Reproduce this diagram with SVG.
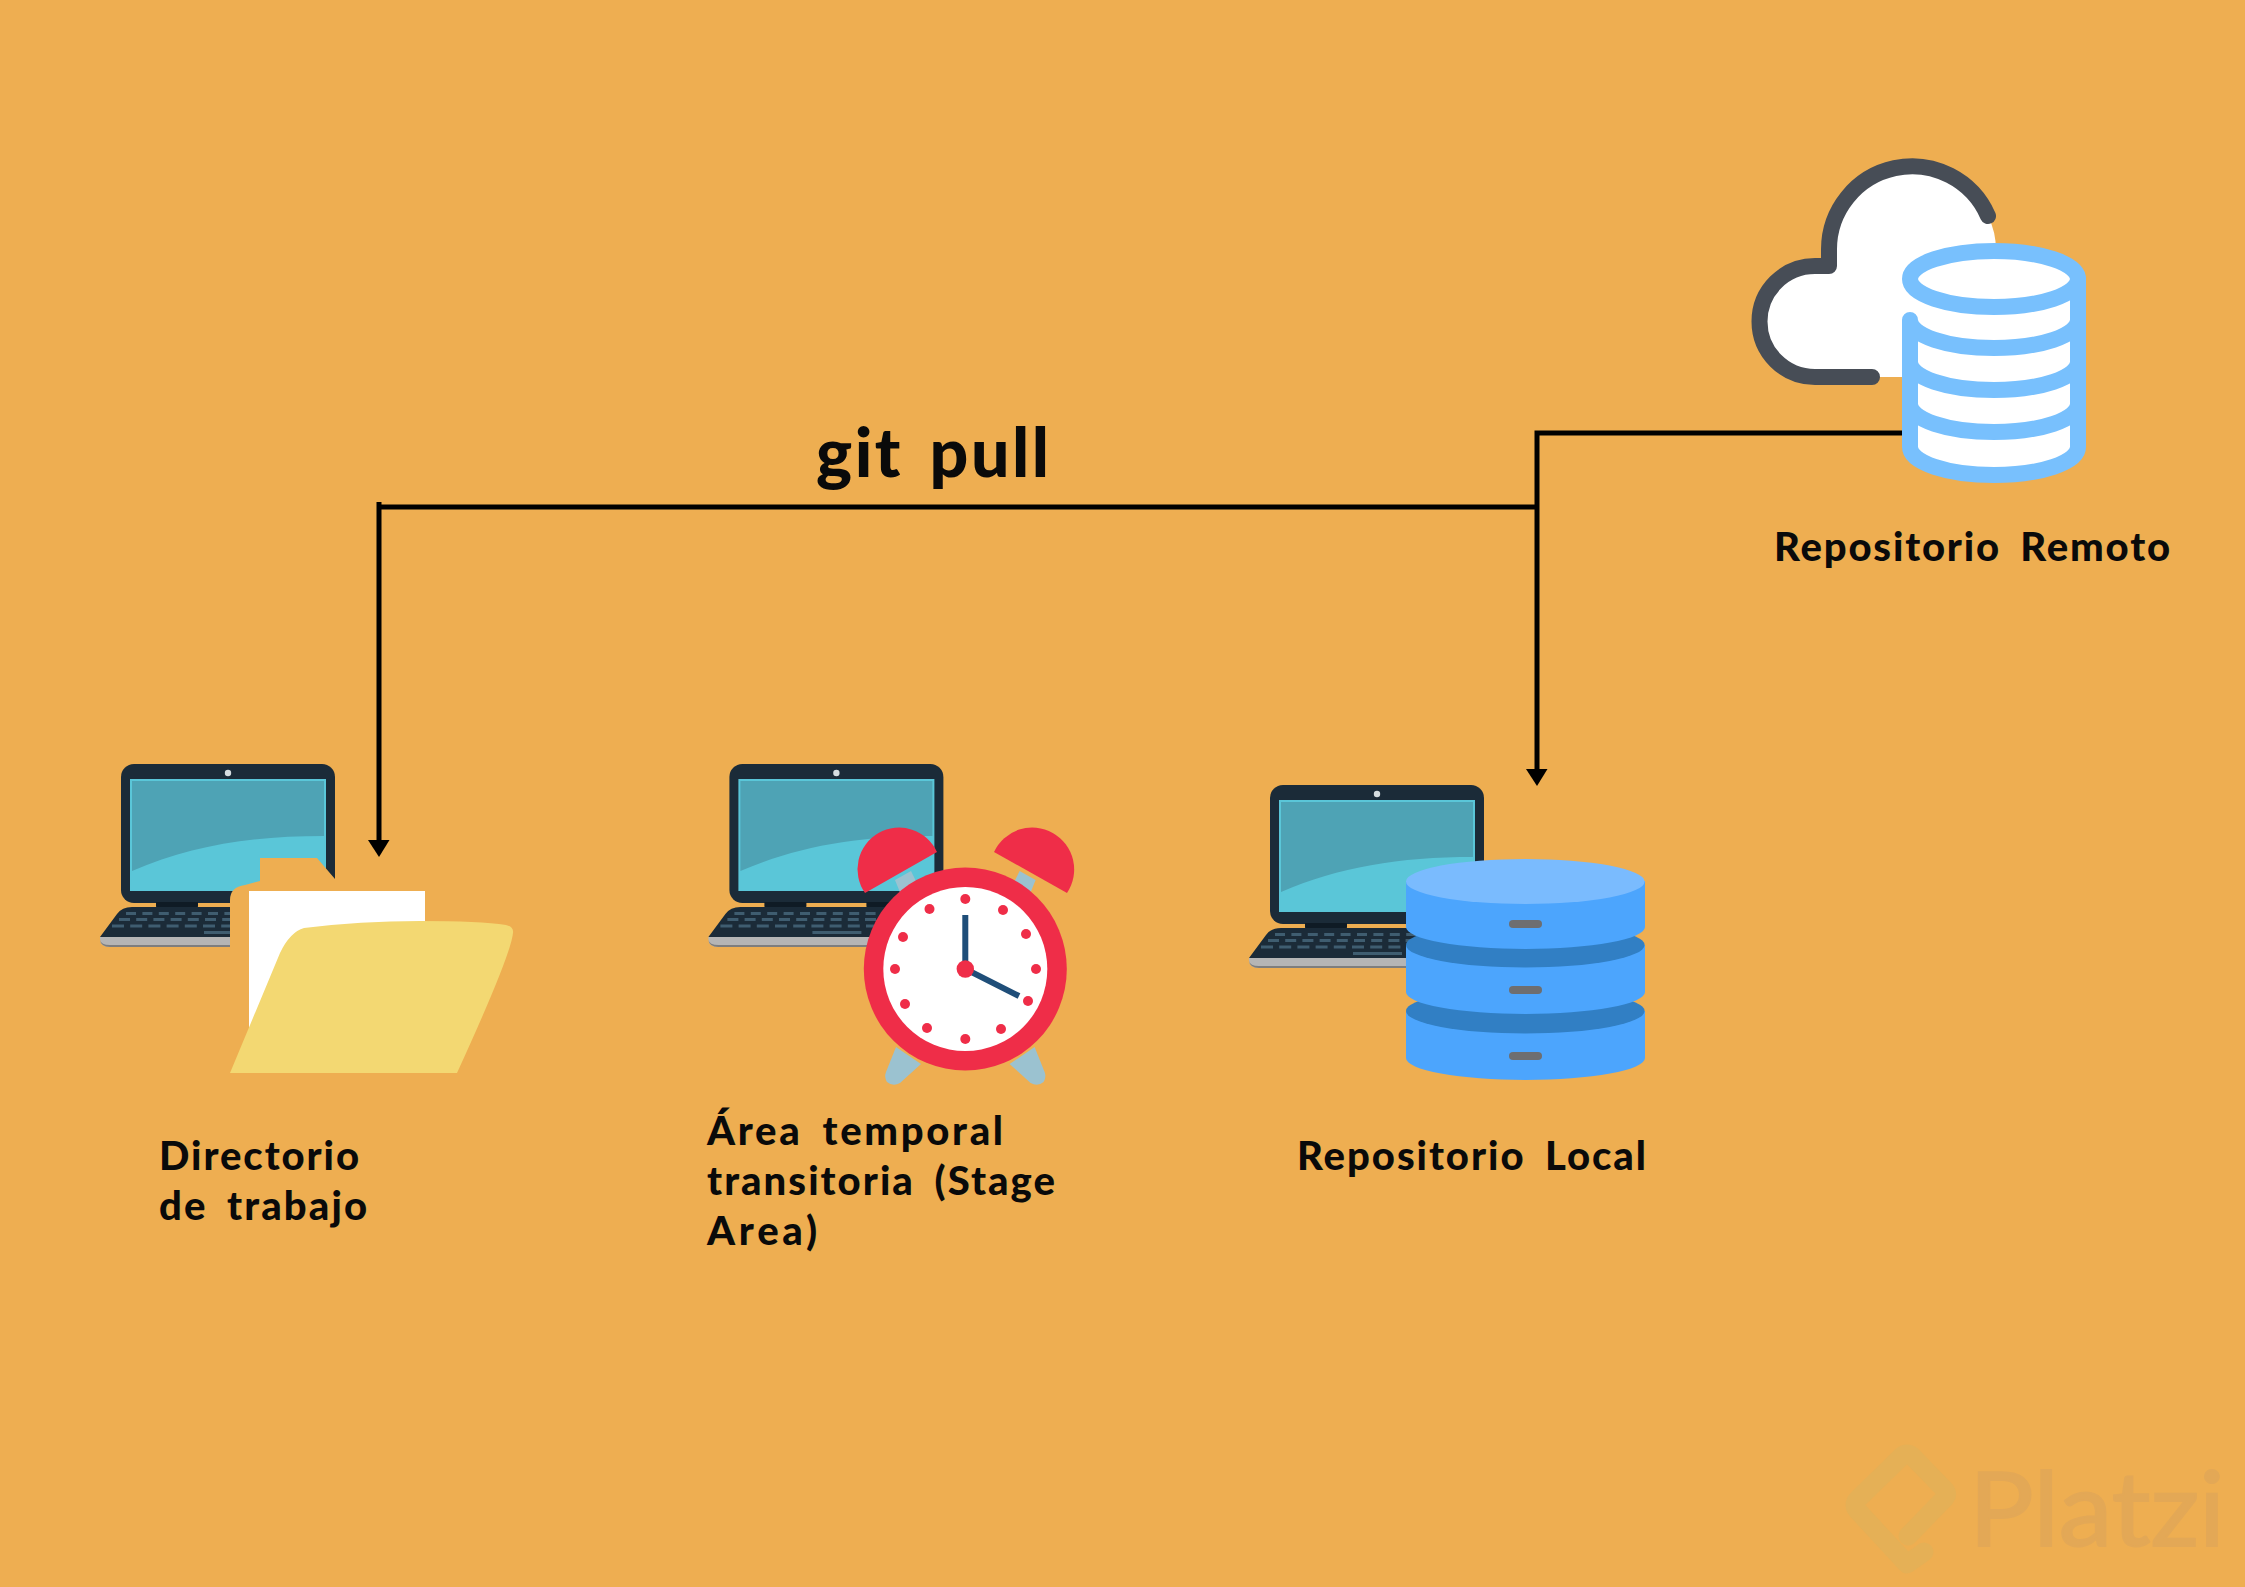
<svg xmlns="http://www.w3.org/2000/svg" xmlns:xlink="http://www.w3.org/1999/xlink" width="2245" height="1587" viewBox="0 0 2245 1587">
<style>
.lbl{font-family:"Lato","Liberation Sans",sans-serif;font-weight:900;fill:#0a0a0a;font-size:40px;word-spacing:8px}
.conn{fill:none;stroke:#000;stroke-width:5}
.bell{fill:#EF2D48}
.leg{fill:#9BC2D0}
.dot{fill:#EF2D48}
.disc{fill:#4CA5FD}
.disk-top{fill:#317FC4}
.slot{fill:#6E6E70}
.cyl{fill:none;stroke:#78C0FD;stroke-width:16;stroke-linecap:round}
.cyl-top{fill:#fff;stroke:#78C0FD;stroke-width:16}
</style>
<defs>
<g id="laptop">
<rect x="121" y="764" width="214" height="139" rx="13" fill="#1B2B38"/>
<rect x="130" y="779" width="196" height="112" fill="#5AC6D8"/>
<path d="M132 781H324V836C250 836 190 846 132 871Z" fill="#4EA3B5"/>
<path d="M156 902H198V906Q198 908 195 908H159Q156 908 156 906ZM258 902H300V906Q300 908 297 908H261Q258 908 258 906Z" fill="#0F1B25"/>
<circle cx="228" cy="773" r="3.200" fill="#D5DDE0"/>
<path d="M100 937L117 914Q122 907 132 907H324Q334 907 339 914L356 937Z" fill="#1B2B38"/>
<path d="M100 937H356V939Q356 947 346 947H110Q100 947 100 939Z" fill="#B5B5B5"/>
<path d="M100 940Q101 947 110 947H346Q355 947 356 940Q355 945 346 945H110Q101 945 100 940Z" fill="#7E7E7E"/>
<g stroke="#3F5D70" stroke-width="3" fill="none">
<path d="M126 913.500H333" stroke-dasharray="10 6.400"/>
<path d="M119 919.500H338" stroke-dasharray="11 6.200"/>
<path d="M112 926H344" stroke-dasharray="12 6.200"/>
<path d="M204 932.500H253"/>
</g>
</g>
</defs>
<rect id="background" width="2245" height="1587" fill="#EEAE51"/>
<g id="watermark">
<path d="M1924 1552L1907 1564L1857 1510Q1853 1505 1857 1500L1902 1456Q1907 1452 1912 1456L1945 1490Q1948 1494 1945 1498L1908 1536" fill="none" stroke="#E5B056" stroke-width="19" stroke-linejoin="round" stroke-linecap="round"/>
<text x="1969" y="1546" font-family="Lato,'Liberation Sans',sans-serif" font-size="102" fill="#E3A856" stroke="#E3A856" stroke-width="2" textLength="256" lengthAdjust="spacingAndGlyphs">Platzi</text>
</g>
<g id="node-directorio">
<use xlink:href="#laptop" href="#laptop"/>
<path d="M230 1073V900Q230 887 245 885L260 881V858H317L335 879H345V1073Z" fill="#EEAE51"/>
<rect x="249" y="891" width="176" height="150" fill="#fff"/>
<path d="M230 1073L280 953Q290 932 304 928Q360 921 420 921Q480 921 506 925Q514 927 513 933Q511 955 457 1073Z" fill="#F3D872"/>
<text class="lbl" x="159" y="1170" textLength="200">Directorio</text>
<text class="lbl" x="159" y="1220" textLength="208">de trabajo</text>
</g>
<g id="node-stage">
<use xlink:href="#laptop" href="#laptop" x="608.400"/>
<path class="leg" d="M896 1047L921 1064L900 1083Q893 1087 887 1082Q884 1077 886 1072Z"/>
<path class="leg" d="M1034.600 1047L1009.600 1064L1030.600 1083Q1037.600 1087 1043.600 1082Q1046.600 1077 1044.600 1072Z"/>
<path class="leg" d="M895 880L911 871L930 910L912 922Z"/>
<path class="leg" d="M1035.600 880L1019.600 871L1000.600 910L1018.600 922Z"/>
<path class="bell" d="M865 893A41.600 41.600 0 1 1 937 852Z"/>
<path class="bell" d="M994 852A42 42 0 1 1 1067 893Z"/>
<circle cx="965.300" cy="969" r="101.500" fill="#EF2D48"/>
<circle cx="965.300" cy="969" r="82" fill="#fff"/>
<g class="dot">
<circle cx="965.300" cy="899" r="5"/><circle cx="1003" cy="910" r="5"/><circle cx="1026" cy="934" r="5"/><circle cx="1036" cy="969" r="5"/><circle cx="1028" cy="1001" r="5"/><circle cx="1001" cy="1029" r="5"/><circle cx="965.300" cy="1039" r="5"/><circle cx="927" cy="1028" r="5"/><circle cx="905" cy="1004" r="5"/><circle cx="895" cy="969" r="5"/><circle cx="903" cy="937" r="5"/><circle cx="929.500" cy="909" r="5"/>
</g>
<path d="M965.300 915V969L1019 996" fill="none" stroke="#1F4E79" stroke-width="6"/>
<circle cx="965.300" cy="969" r="8.700" fill="#EF2D48"/>
<text class="lbl" x="707" y="1145" textLength="296">Área temporal</text>
<text class="lbl" x="707" y="1195" textLength="348">transitoria (Stage</text>
<text class="lbl" x="707" y="1245" textLength="110">Area)</text>
</g>
<g id="node-local">
<use xlink:href="#laptop" href="#laptop" x="1149" y="21"/>
<path class="disc" d="M1406 1011V1058A119.300 22 0 0 0 1645 1058V1011Z"/>
<ellipse class="disk-top" cx="1525.300" cy="1011" rx="119.300" ry="22.500"/>
<path class="disc" d="M1406 945V992A119.300 22 0 0 0 1645 992V945Z"/>
<ellipse class="disk-top" cx="1525.300" cy="945" rx="119.300" ry="22.500"/>
<path class="disc" d="M1406 881V927A119.300 22 0 0 0 1645 927V881Z"/>
<ellipse cx="1525.300" cy="881.500" rx="119.300" ry="22.500" fill="#7ABBFE"/>
<rect class="slot" x="1509" y="920" width="33" height="8" rx="4"/>
<rect class="slot" x="1509" y="986" width="33" height="8" rx="4"/>
<rect class="slot" x="1509" y="1052" width="33" height="8" rx="4"/>
<text class="lbl" x="1297" y="1170" textLength="349">Repositorio Local</text>
</g>
<g id="connectors">
<path class="conn" d="M1905 433H1537V775"/>
<path class="conn" d="M379 502V846M379 507H1537"/>
<path d="M368 840H389.500L379 857Z" fill="#000"/>
<path d="M1526 769H1547.500L1537 786Z" fill="#000"/>
</g>
<g id="node-remote">
<path d="M1988 216Q1996 232 1996 250V377H1815A55.500 55.500 0 0 1 1815 266H1829V250A83 83 0 0 1 1988 216Z" fill="#fff"/>
<path d="M1988 216A83 83 0 0 0 1829 250V266H1815A55.500 55.500 0 0 0 1815 377H1872" fill="none" stroke="#474D56" stroke-width="16" stroke-linecap="round" stroke-linejoin="round"/>
<path d="M1910 279H2078V447A84 28 0 0 1 1910 447Z" fill="#fff"/>
<ellipse class="cyl-top" cx="1994" cy="279" rx="84" ry="28"/>
<path class="cyl" d="M1910 320A84 28 0 0 0 2078 320M1910 362A84 28 0 0 0 2078 362M1910 404A84 28 0 0 0 2078 404M1910 320V447A84 28 0 0 0 2078 447V279"/>
<text class="lbl" x="1774" y="561" textLength="396">Repositorio Remoto</text>
</g>
<text id="label-git-pull" x="816" y="477" font-family="Lato,'Liberation Sans',sans-serif" font-weight="900" font-size="68" fill="#0a0a0a" textLength="233" style="word-spacing:8px">git pull</text>
</svg>
